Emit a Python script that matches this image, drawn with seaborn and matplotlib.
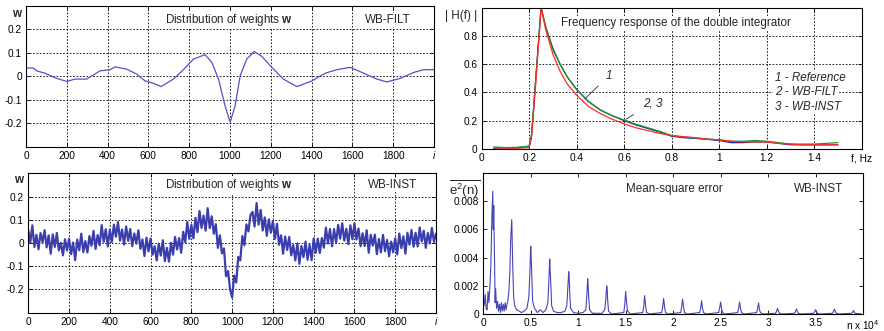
import numpy as np
import matplotlib
matplotlib.use('Agg')
import matplotlib.pyplot as plt
import seaborn as sns

# --- weights, WB-FILT (smooth) ---
filt_i = [0, 36, 52, 93, 150, 200, 240, 298, 363, 412, 437, 494, 543, 584, 625, 662,
          723, 772, 821, 878, 911, 944, 976, 1001, 1025, 1050, 1082, 1119, 1156, 1205,
          1262, 1328, 1401, 1467, 1524, 1590, 1655, 1720, 1769, 1835, 1900, 1949, 2000]
filt_w = [0.036, 0.036, 0.024, 0.014, -0.008, -0.021, -0.011, -0.011, 0.024, 0.029, 0.041,
          0.031, 0.010, -0.019, -0.029, -0.043, -0.011, 0.029, 0.074, 0.093, 0.060, -0.011,
          -0.126, -0.194, -0.126, 0.003, 0.074, 0.106, 0.086, 0.039, -0.011, -0.043, -0.019,
          0.014, 0.029, 0.039, 0.014, -0.011, -0.023, -0.008, 0.017, 0.029, 0.029]

# --- weights, WB-INST (noisy), one value every 10 samples ---
inst_w = [
    0.056, 0.002, 0.076, -0.017, 0.035, -0.027, 0.043, 0.003, 0.055, -0.019,
    0.033, -0.046, 0.037, -0.017, 0.043, -0.032, 0.001, -0.053, 0.016, -0.032,
    0.018, -0.048, 0.002, -0.074, 0.015, -0.031, 0.040, -0.039, 0.008, -0.041,
    0.030, -0.012, 0.052, -0.026, 0.034, -0.010, 0.077, 0.005, 0.059, -0.015,
    0.057, 0.005, 0.079, 0.027, 0.090, 0.010, 0.058, -0.007, 0.071, 0.009,
    0.060, -0.014, 0.041, -0.003, 0.055, -0.025, 0.015, -0.056, 0.023, -0.036,
    0.019, -0.050, -0.014, -0.075, -0.003, -0.054, 0.012, -0.078, -0.021, -0.080,
    0.001, -0.050, 0.026, -0.028, 0.021, -0.042, 0.048, 0.003, 0.090, 0.018,
    0.078, 0.020, 0.108, 0.047, 0.138, 0.065, 0.118, 0.053, 0.150, 0.064,
    0.115, 0.040, 0.081, -0.021, 0.033, -0.045, -0.023, -0.143, -0.121, -0.200,
    -0.235, -0.140, -0.170, -0.060, -0.075, 0.030, -0.010, 0.080, 0.050, 0.120,
    0.134, 0.071, 0.172, 0.079, 0.142, 0.054, 0.110, 0.031, 0.102, 0.044,
    0.094, 0.018, 0.083, -0.008, 0.033, -0.046, 0.028, -0.030, 0.026, -0.053,
    -0.009, -0.075, -0.002, -0.090, -0.013, -0.061, 0.006, -0.072, -0.008, -0.074,
    0.020, -0.042, 0.019, -0.043, 0.021, -0.020, 0.066, -0.002, 0.060, -0.014,
    0.060, 0.001, 0.078, 0.019, 0.085, 0.010, 0.061, -0.005, 0.076, 0.016,
    0.085, 0.015, 0.062, -0.014, 0.042, -0.013, 0.055, -0.042, 0.035, -0.011,
    0.036, -0.048, 0.017, -0.040, 0.035, -0.035, 0.013, -0.057, 0.006, -0.040,
    0.020, -0.049, 0.041, -0.022, 0.029, -0.046, 0.044, -0.007, 0.056, -0.016,
    0.044, -0.015, 0.067, 0.007, 0.053, -0.021, 0.043, -0.002, 0.065, 0.005,
    0.040]
inst_i = list(range(0, 2001, 10))

# --- frequency response ---
freq = [0.05, 0.10, 0.15, 0.20, 0.21, 0.23, 0.25, 0.27, 0.30, 0.33, 0.36, 0.40, 0.45,
        0.50, 0.55, 0.60, 0.65, 0.70, 0.75, 0.80, 0.85, 0.90, 0.95, 1.00, 1.05, 1.10,
        1.15, 1.20, 1.25, 1.30, 1.35, 1.40, 1.45, 1.50]
h_ref = [0.005, 0.008, 0.010, 0.020, 0.100, 0.550, 1.000, 0.860, 0.710, 0.600, 0.510,
         0.420, 0.335, 0.275, 0.235, 0.200, 0.170, 0.145, 0.120, 0.090, 0.080, 0.075,
         0.068, 0.060, 0.045, 0.045, 0.050, 0.050, 0.040, 0.030, 0.030, 0.030, 0.030, 0.030]
h_filt = [0.015, 0.010, 0.012, 0.020, 0.100, 0.550, 1.000, 0.860, 0.700, 0.600, 0.510,
          0.420, 0.335, 0.275, 0.235, 0.205, 0.175, 0.150, 0.125, 0.095, 0.085, 0.078,
          0.070, 0.065, 0.055, 0.055, 0.060, 0.055, 0.045, 0.035, 0.035, 0.035, 0.040, 0.045]
h_inst = [0.000, 0.000, 0.005, 0.010, 0.080, 0.520, 1.000, 0.840, 0.670, 0.550, 0.460,
          0.380, 0.300, 0.250, 0.210, 0.178, 0.150, 0.130, 0.110, 0.095, 0.087, 0.080,
          0.070, 0.065, 0.055, 0.050, 0.050, 0.050, 0.040, 0.035, 0.030, 0.030, 0.030, 0.030]

# --- mean-square error (n in units of 1e4) ---
mse_n = [0.01, 0.02, 0.03, 0.04, 0.05, 0.06, 0.07, 0.08, 0.09, 0.10, 0.105, 0.11, 0.12,
         0.125, 0.13, 0.14, 0.15, 0.16, 0.17, 0.18, 0.19, 0.20, 0.21, 0.22, 0.23, 0.24,
         0.25, 0.26, 0.27, 0.28, 0.29, 0.30, 0.305, 0.31, 0.32, 0.33, 0.35, 0.38, 0.40,
         0.43, 0.46, 0.48, 0.49, 0.50, 0.505, 0.51, 0.52, 0.54, 0.57, 0.60, 0.63, 0.66,
         0.68, 0.69, 0.70, 0.705, 0.71, 0.72, 0.74, 0.78, 0.82, 0.86, 0.88, 0.89, 0.90,
         0.905, 0.91, 0.92, 0.95, 1.00, 1.05, 1.08, 1.09, 1.10, 1.105, 1.11, 1.12, 1.15,
         1.25, 1.28, 1.29, 1.30, 1.305, 1.31, 1.32, 1.35,
         1.48, 1.49, 1.50, 1.51, 1.52, 1.55,
         1.68, 1.69, 1.70, 1.71, 1.72, 1.75,
         1.88, 1.89, 1.90, 1.91, 1.92, 1.95,
         2.08, 2.09, 2.10, 2.11, 2.12, 2.15,
         2.28, 2.29, 2.30, 2.31, 2.32, 2.35,
         2.48, 2.49, 2.50, 2.51, 2.52, 2.55,
         2.68, 2.69, 2.70, 2.71, 2.72, 2.75,
         2.88, 2.89, 2.90, 2.91, 2.92, 2.95,
         3.08, 3.09, 3.10, 3.11, 3.12, 3.15,
         3.28, 3.29, 3.30, 3.31, 3.32, 3.35,
         3.48, 3.49, 3.50, 3.51, 3.52, 3.55,
         3.68, 3.69, 3.70, 3.71, 3.72, 3.75,
         3.88, 3.89, 3.90, 3.91, 3.92, 3.98]
mse_e = [0.0006, 0.0014, 0.0004, 0.0003, 0.0016, 0.0008, 0.0020, 0.0035, 0.0068, 0.0087,
         0.0060, 0.0077, 0.0030, 0.0008, 0.0018, 0.0004, 0.0009, 0.0002, 0.0007, 0.0001,
         0.0008, 0.0002, 0.0007, 0.0002, 0.0008, 0.0003, 0.0007, 0.0010, 0.0016, 0.0030,
         0.0055, 0.0067, 0.0050, 0.0035, 0.0012, 0.0006, 0.0003, 0.0002, 0.0001, 0.0002,
         0.0004, 0.0012, 0.0028, 0.0048, 0.0040, 0.0030, 0.0009, 0.0004, 0.0001, 0.0003,
         0.0001, 0.0003, 0.0008, 0.0022, 0.0039, 0.0030, 0.0024, 0.0006, 0.0002, 0.0001,
         0.0001, 0.0002, 0.0006, 0.0018, 0.0030, 0.0026, 0.0016, 0.0004, 0.0001, 0.00005,
         0.0001, 0.0003, 0.0012, 0.0025, 0.0020, 0.0012, 0.0003, 0.00005,
         0.00005, 0.0003, 0.0010, 0.0020, 0.0018, 0.0010, 0.0002, 0.0,
         0.0001, 0.0006, 0.0016, 0.0008, 0.0002, 0.0,
         0.0001, 0.0005, 0.0013, 0.0006, 0.0001, 0.0,
         0.0001, 0.0005, 0.0011, 0.0005, 0.0001, 0.0,
         0.0001, 0.0005, 0.00105, 0.0005, 0.0001, 0.0,
         0.0001, 0.0004, 0.00095, 0.0004, 0.0001, 0.0,
         0.0001, 0.0004, 0.00085, 0.0004, 0.0001, 0.0,
         0.0001, 0.0004, 0.00085, 0.0004, 0.0001, 0.0,
         0.0001, 0.0004, 0.00078, 0.0003, 0.0001, 0.0,
         0.00005, 0.0002, 0.0004, 0.0002, 0.00005, 0.0,
         0.00005, 0.0002, 0.00035, 0.00015, 0.00005, 0.0,
         0.00005, 0.00015, 0.0003, 0.00015, 0.00005, 0.0,
         0.00005, 0.0002, 0.00033, 0.00015, 0.00005, 0.0,
         0.00005, 0.00012, 0.00025, 0.0001, 0.00005, 0.0]

sns.set_style('white')
plt.rcParams['font.family'] = ['Liberation Sans', 'DejaVu Sans']
plt.rcParams['mathtext.fontset'] = 'custom'
plt.rcParams['mathtext.rm'] = 'Liberation Sans'
plt.rcParams['mathtext.it'] = 'Liberation Sans:italic'
plt.rcParams['mathtext.bf'] = 'Liberation Sans:bold'

FS = 8.4
TICK_FS = 7.3
GRID = dict(color='black', linestyle=(0, (2, 2)), linewidth=0.6)
BOX = dict(facecolor='white', edgecolor='none', pad=1.0)


def style_axes(ax, grid=True):
    for s in ax.spines.values():
        s.set_visible(True)
        s.set_color('black')
        s.set_linewidth(0.8)
    ax.tick_params(direction='in', length=3, width=0.6, labelsize=TICK_FS, pad=3,
                   top=True, right=True, bottom=True, left=True, colors='black')
    ax.set_xlabel('')
    ax.set_ylabel('')
    if grid:
        ax.grid(True, **GRID)
    else:
        ax.grid(False)


def panel_text(ax, x, y, s, **kw):
    ax.text(x, y, s, transform=ax.transAxes, ha='center', va='center',
            fontsize=FS, bbox=BOX, zorder=5, **kw)


fig = plt.figure(figsize=(8.84, 3.31), dpi=100)

# top-left: WB-FILT weights
ax1 = fig.add_axes([0.0294, 0.5559, 0.4615, 0.426])
sns.lineplot(x=filt_i, y=filt_w, ax=ax1, color='#5252c8', linewidth=0.9, estimator=None, sort=False)
ax1.set_xlim(0, 2000)
ax1.set_ylim(-0.3, 0.3)
ax1.set_xticks(range(0, 2001, 200))
ax1.set_xticklabels([str(v) for v in range(0, 2000, 200)] + ['i'])
ax1.get_xticklabels()[-1].set_fontstyle('italic')
ax1.set_yticks([-0.2, -0.1, 0, 0.1, 0.2])
ax1.set_yticklabels(['-0.2', '-0.1', '0', '0.1', '0.2'])
style_axes(ax1)
ax1.text(-0.012, 0.945, 'w', transform=ax1.transAxes, ha='right', va='center',
         fontsize=FS, fontweight='bold')
panel_text(ax1, 0.497, 0.90, 'Distribution of weights $\\mathbf{w}$')
panel_text(ax1, 0.887, 0.90, 'WB-FILT')

# top-right: frequency response
ax2 = fig.add_axes([0.5449, 0.5498, 0.4299, 0.4275])
sns.lineplot(x=freq, y=h_ref, ax=ax2, color='#1f1f9e', linewidth=0.9, estimator=None, sort=False)
sns.lineplot(x=freq, y=h_filt, ax=ax2, color='#1c9a1c', linewidth=0.9, estimator=None, sort=False)
sns.lineplot(x=freq, y=h_inst, ax=ax2, color='#ff2a2a', linewidth=0.9, estimator=None, sort=False)
ax2.set_xlim(0, 1.6)
ax2.set_ylim(0, 1.0)
ax2.set_xticks([0, 0.2, 0.4, 0.6, 0.8, 1.0, 1.2, 1.4, 1.6])
ax2.set_xticklabels(['0', '0.2', '0.4', '0.6', '0.8', '1', '1.2', '1.4', 'f, Hz'])
ax2.set_yticks([0, 0.2, 0.4, 0.6, 0.8])
ax2.set_yticklabels(['0', '0.2', '0.4', '0.6', '0.8'])
style_axes(ax2)
ax2.text(-0.012, 0.94, '| H(f) |', transform=ax2.transAxes, ha='right', va='center', fontsize=FS)
panel_text(ax2, 0.51, 0.89, 'Frequency response of the double integrator')
ax2.annotate('1', xy=(0.434, 0.354), xytext=(0.535, 0.517), fontsize=FS, style='italic',
             ha='center', va='center',
             arrowprops=dict(arrowstyle='-', color='#333333', lw=0.6, shrinkA=4, shrinkB=0))
ax2.annotate('2, 3', xy=(0.607, 0.21), xytext=(0.72, 0.325), fontsize=FS, style='italic',
             ha='center', va='center',
             arrowprops=dict(arrowstyle='-', color='#333333', lw=0.6, shrinkA=5, shrinkB=0))
for lab, yv in [('1 - Reference', 0.50), ('2 - WB-FILT', 0.40), ('3 - WB-INST', 0.30)]:
    ax2.text(1.234, yv, lab, fontsize=FS, style='italic', ha='left', va='center',
             bbox=BOX, zorder=5)

# bottom-left: WB-INST weights
ax3 = fig.add_axes([0.032, 0.0553, 0.4612, 0.4211])
sns.lineplot(x=inst_i, y=inst_w, ax=ax3, color='#3b3fae', linewidth=1.6, estimator=None, sort=False)
ax3.set_xlim(0, 2000)
ax3.set_ylim(-0.3, 0.3)
ax3.set_xticks(range(0, 2001, 200))
ax3.set_xticklabels([str(v) for v in range(0, 2000, 200)] + ['i'])
ax3.get_xticklabels()[-1].set_fontstyle('italic')
ax3.set_yticks([-0.2, -0.1, 0, 0.1, 0.2])
ax3.set_yticklabels(['-0.2', '-0.1', '0', '0.1', '0.2'])
style_axes(ax3)
ax3.text(-0.012, 0.95, 'w', transform=ax3.transAxes, ha='right', va='center',
         fontsize=FS, fontweight='bold')
panel_text(ax3, 0.492, 0.916, 'Distribution of weights $\\mathbf{w}$')
panel_text(ax3, 0.894, 0.916, 'WB-INST')

# bottom-right: mean-square error
ax4 = fig.add_axes([0.5467, 0.0514, 0.4295, 0.426])
sns.lineplot(x=mse_n, y=mse_e, ax=ax4, color='#4545b8', linewidth=0.8, estimator=None, sort=False)
ax4.set_xlim(0, 4)
ax4.set_ylim(0, 0.01)
ax4.set_xticks([0, 0.5, 1, 1.5, 2, 2.5, 3, 3.5, 4])
ax4.set_xticklabels(['0', '0.5', '1', '1.5', '2', '2.5', '3', '3.5', 'n x 10$^4$'])
ax4.set_yticks([0, 0.002, 0.004, 0.006, 0.008])
ax4.set_yticklabels(['0', '0.002', '0.004', '0.006', '0.008'])
style_axes(ax4, grid=False)
ax4.text(-0.008, 0.89, r'$\overline{\mathrm{e^{2}(n)}}$', transform=ax4.transAxes,
         ha='right', va='center', fontsize=9.5)
ax4.text(0.504, 0.884, 'Mean-square error', transform=ax4.transAxes, ha='center', va='center', fontsize=FS)
ax4.text(0.883, 0.884, 'WB-INST', transform=ax4.transAxes, ha='center', va='center', fontsize=FS)

fig.savefig('out.png', dpi=100)
